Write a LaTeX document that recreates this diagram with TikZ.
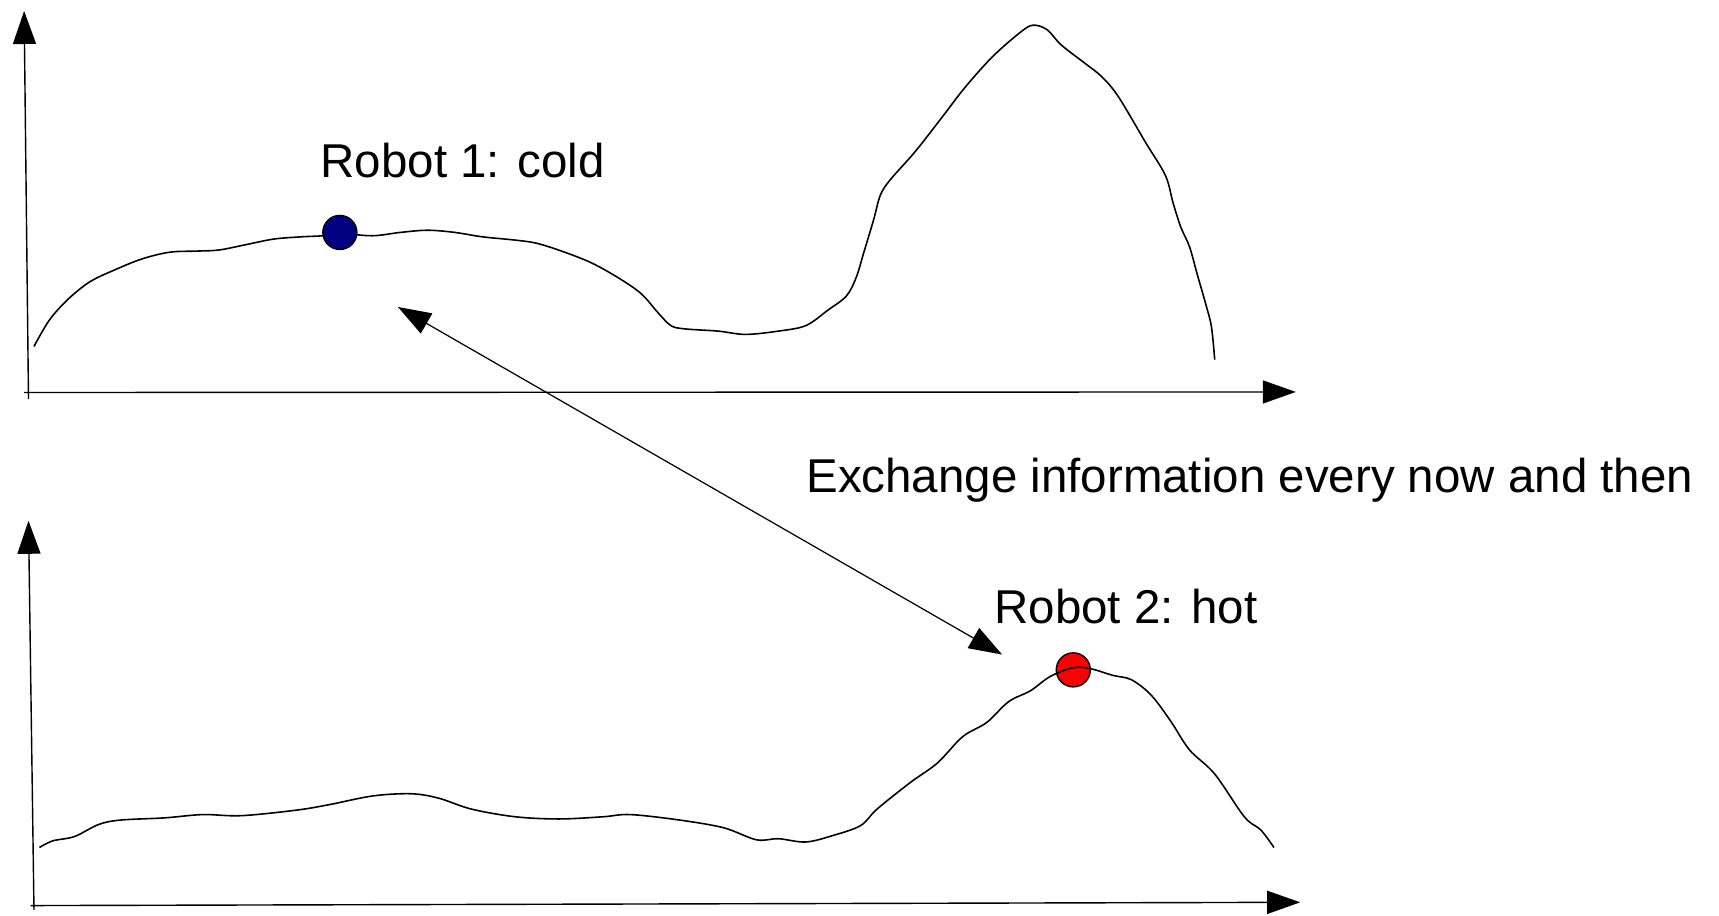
\documentclass[tikz,border=0pt]{standalone}
\usepackage{fontspec}
\setmainfont{Liberation Sans}
\usetikzlibrary{arrows.meta}
\begin{document}
\begin{tikzpicture}[x=0.010963cm,y=-0.010963cm,
  axis/.style={line width=0.4pt,-{Triangle[length=0.33cm,width=0.23cm]}},
  curve/.style={line width=0.45pt,smooth,tension=0.55},
  lbl/.style={inner sep=0pt,anchor=base,font=\fontsize{13.5}{16}\selectfont},
  dot/.style={circle,draw=black,line width=0.4pt,minimum size=0.34cm,inner sep=0pt}]
\useasboundingbox (0,0) rectangle (1568,835);
% top axes
\coordinate (t0) at (26,364);
\coordinate (tyt) at (22,10);
\coordinate (tx0) at (22,358);
\coordinate (txt) at (1182,357.5);
\draw[axis] (t0) -- (tyt);
\draw[axis] (tx0) -- (txt);
% top curve
\draw[curve] plot coordinates {(31,316) (45,292) (62,273) (82,257) (105,246) (130,236) (155,230) (180,229) (200,228) (225,223) (250,218) (275,216) (295,215) (310,213) (340,215) (365,212) (390,210) (415,212) (440,216) (470,219) (490,222) (515,230) (540,240) (565,254) (585,268) (600,285) (612,297) (625,300) (655,302) (680,305) (710,302) (735,297) (755,283) (772,270) (781,253) (788,230) (797,200) (803,178) (812,164) (835,138) (860,106) (880,80) (905,52) (930,30) (942,23) (955,27) (968,41) (990,58) (1005,70) (1020,88) (1045,130) (1063,160) (1070,185) (1077,207) (1085,225) (1092,250) (1100,278) (1105,298) (1108,328)};
\node[dot,fill={rgb,255:red,0;green,0;blue,128}] (r1) at (310,212) {};
\node[lbl] (l1) at (422,162) {Robot 1: cold};
% bottom axes
\coordinate (b0) at (31,830);
\coordinate (byt) at (26,475);
\coordinate (bx0) at (28,826);
\coordinate (bxt) at (1186,823);
\draw[axis] (b0) -- (byt);
\draw[axis] (bx0) -- (bxt);
% bottom curve
\node[dot,fill={rgb,255:red,255;green,0;blue,0}] (r2) at (979,611) {};
\draw[curve] plot coordinates {(36,773) (48,767) (68,763) (90,752) (110,748) (150,746) (185,743) (220,744) (270,739) (300,734) (340,726) (375,724) (400,728) (430,738) (470,745) (510,747) (550,745) (575,743) (620,748) (660,755) (690,766) (710,765) (735,768) (760,762) (785,753) (800,738) (830,714) (855,696) (878,672) (900,659) (920,640) (940,630) (958,617) (979,609) (995,610) (1015,616) (1032,620) (1050,634) (1068,658) (1085,684) (1108,706) (1135,745) (1150,757) (1162,773)};
\node[lbl] (l2) at (1027,569) {Robot 2: hot};
% exchange arrow
\coordinate (ea) at (363,280);
\coordinate (eb) at (914,597);
\draw[line width=0.35pt,{Triangle[length=0.33cm,width=0.23cm]}-{Triangle[length=0.33cm,width=0.23cm]}] (ea) -- (eb);
\node[lbl] (ex) at (1140,449) {Exchange information every now and then};
\end{tikzpicture}
\end{document}
